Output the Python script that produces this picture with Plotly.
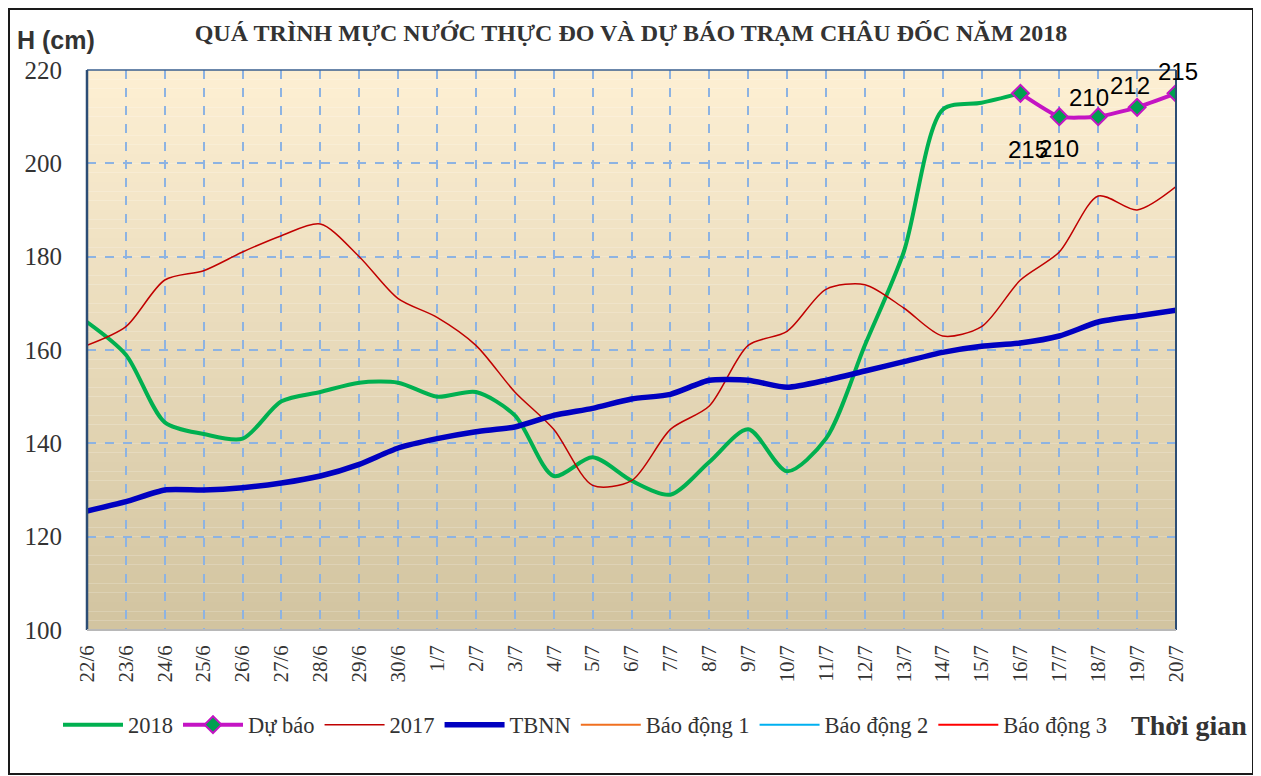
import plotly.graph_objects as go

dates = ["22/6", "23/6", "24/6", "25/6", "26/6", "27/6", "28/6", "29/6", "30/6",
         "1/7", "2/7", "3/7", "4/7", "5/7", "6/7", "7/7", "8/7", "9/7", "10/7",
         "11/7", "12/7", "13/7", "14/7", "15/7", "16/7", "17/7", "18/7", "19/7", "20/7"]

h2018 = [166, 159, 144.5, 142, 141, 149, 151, 153, 153, 150, 151, 146, 133, 137,
         132, 129, 136, 143, 134, 141, 161, 181, 211.5, 213, 215]
forecast_dates = ["16/7", "17/7", "18/7", "19/7", "20/7"]
forecast = [215, 210, 210, 212, 215]
h2017 = [161, 165, 175, 177, 181, 184.5, 187, 180, 171, 167, 161, 151, 143, 131,
         132, 143, 148, 161, 164, 173, 174, 169, 163, 165, 175, 181, 193, 190, 195]
tbnn = [125.5, 127.5, 130, 130, 130.5, 131.5, 133, 135.5, 139, 141, 142.5, 143.5,
        146, 147.5, 149.5, 150.5, 153.5, 153.5, 152, 153.5, 155.5, 157.5, 159.5,
        160.8, 161.5, 163, 166, 167.3, 168.5]
# alarm levels (above the visible range)
bd1 = [350] * len(dates)
bd2 = [400] * len(dates)
bd3 = [450] * len(dates)

y_ticks = [100, 120, 140, 160, 180, 200, 220]

title = "QUÁ TRÌNH MỰC NƯỚC THỰC ĐO VÀ DỰ BÁO TRẠM CHÂU ĐỐC NĂM 2018"

# label offsets (style)
label_xshift = [8, 0, -9, -7, 2]
label_yshift = [-56, -32, 19, 22, 22]

# layout geometry (window pixels); the page body adds an 8px offset
OFF = 8
PL, PR, PT, PB = 87, 1176, 70, 630
W, H = 1250, 768


def px_x(p):
    return (p - PL) / (PR - PL)


def px_y(p):
    return (PB - p) / (PB - PT)


serif = "Liberation Serif, Times New Roman, serif"
fig = go.Figure()

fig.add_trace(go.Scatter(x=dates[:len(h2018)], y=h2018, name="2018", mode="lines",
                         line=dict(color="#00b050", width=4, shape="spline", smoothing=0.8)))
fig.add_trace(go.Scatter(x=forecast_dates, y=forecast, name="Dự báo", mode="lines+markers",
                         line=dict(color="#c414c4", width=4, shape="spline", smoothing=0.5),
                         marker=dict(symbol="diamond", size=13, color="#00a050",
                                     line=dict(color="#c414c4", width=2))))
fig.add_trace(go.Scatter(x=dates, y=h2017, name="2017", mode="lines",
                         line=dict(color="#c00000", width=1.5, shape="spline", smoothing=0.8)))
fig.add_trace(go.Scatter(x=dates, y=tbnn, name="TBNN", mode="lines",
                         line=dict(color="#0000c0", width=5.5, shape="spline", smoothing=0.6)))
fig.add_trace(go.Scatter(x=dates, y=bd1, name="Báo động 1", mode="lines",
                         line=dict(color="#f07020", width=2)))
fig.add_trace(go.Scatter(x=dates, y=bd2, name="Báo động 2", mode="lines",
                         line=dict(color="#00b0f0", width=2)))
fig.add_trace(go.Scatter(x=dates, y=bd3, name="Báo động 3", mode="lines",
                         line=dict(color="#ff0000", width=2)))

# gradient background bands
shapes = []
n = 60
top = (253, 239, 211)
bot = (210, 196, 160)
for i in range(n):
    f = i / (n - 1)
    c = tuple(round(top[k] + (bot[k] - top[k]) * f) for k in range(3))
    shapes.append(dict(type="rect", xref="x domain", yref="y domain",
                       x0=0, x1=1, y0=1 - (i + 1) / n, y1=1 - i / n,
                       fillcolor="rgb(%d,%d,%d)" % c, line=dict(width=0), layer="below"))
# plot frame
shapes.append(dict(type="line", xref="x domain", yref="y domain", x0=0, x1=1, y0=1, y1=1,
                   line=dict(color="#3a5f8f", width=1.5)))
shapes.append(dict(type="line", xref="x domain", yref="y domain", x0=1, x1=1, y0=0, y1=1,
                   line=dict(color="#2c4d75", width=2)))
shapes.append(dict(type="line", xref="x domain", yref="y domain", x0=0, x1=0, y0=0, y1=1,
                   line=dict(color="#2c4d75", width=2.5)))
shapes.append(dict(type="line", xref="x domain", yref="y domain", x0=0, x1=1, y0=0, y1=0,
                   line=dict(color="#b8b8b8", width=2)))
# outer border
shapes.append(dict(type="rect", xref="paper", yref="paper",
                   x0=px_x(9), x1=px_x(1253), y0=px_y(774), y1=px_y(9),
                   line=dict(color="#1a1a1a", width=2), fillcolor="rgba(0,0,0,0)"))

annotations = []
for d, v, xs, ys in zip(forecast_dates, forecast, label_xshift, label_yshift):
    annotations.append(dict(x=d, y=v, xref="x", yref="y", text=str(v), showarrow=False,
                            xshift=xs, yshift=ys,
                            font=dict(family="Liberation Sans, Arial", size=24, color="black")))
annotations.append(dict(x=px_x(15), y=px_y(40), xref="paper", yref="paper", text="<b>H (cm)</b>",
                        showarrow=False, xanchor="left", yanchor="middle",
                        font=dict(family="Liberation Sans, Arial, sans-serif", size=25,
                                  color="#333333")))
annotations.append(dict(x=px_x(1249), y=px_y(725), xref="paper", yref="paper",
                        text="<b>Thời gian</b>", showarrow=False, xanchor="right", yanchor="middle",
                        font=dict(family=serif, size=28, color="#333333")))

fig.update_layout(
    width=W, height=H,
    margin=dict(l=PL - OFF, r=W - (PR - OFF), t=PT - OFF, b=H - (PB - OFF), pad=0),
    paper_bgcolor="white", plot_bgcolor="rgba(0,0,0,0)",
    title=dict(text="<b>" + title + "</b>", x=(631 - OFF) / W, xref="container",
               y=1 - (33 - OFF) / H, yref="container", xanchor="center", yanchor="middle",
               font=dict(family=serif, size=24, color="#333333")),
    shapes=shapes, annotations=annotations,
    showlegend=True,
    legend=dict(orientation="h", x=px_x(58), xanchor="left", y=px_y(725), yanchor="middle",
                font=dict(family=serif, size=22.5, color="#333333"), bgcolor="rgba(0,0,0,0)",
                itemwidth=60, tracegroupgap=0),
    xaxis=dict(type="category", categoryorder="array", categoryarray=dates,
               range=[0, len(dates) - 1], showgrid=True, gridcolor="#8db3e2", griddash="dash",
               gridwidth=1.5, tickangle=-90, ticks="", zeroline=False, showline=False,
               ticklabelstandoff=10,
               tickfont=dict(family=serif, size=21, color="#333333")),
    yaxis=dict(range=[100, 220], tickvals=y_ticks, showgrid=True, gridcolor="#8db3e2",
               griddash="dash", gridwidth=1.5, ticks="", ticklabelstandoff=24,
               zeroline=False, showline=False,
               tickfont=dict(family=serif, size=25, color="#333333")),
)

fig.write_html("out.html")
